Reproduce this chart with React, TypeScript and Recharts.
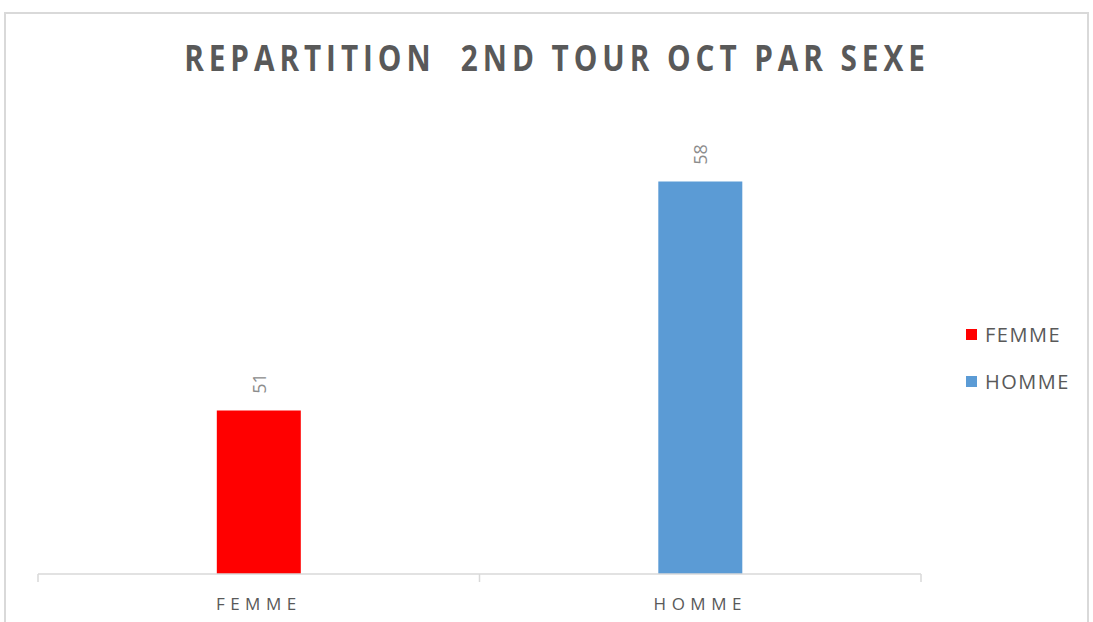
import { BarChart, Bar, XAxis, YAxis, Cell, LabelList } from 'recharts';

const categories = ['FEMME', 'HOMME'];
const values = [51, 58];
const colors = ['#ff0000', '#5b9bd5'];

const data = categories.map((name, i) => ({ name, value: values[i] }));

const W = 1093;
const H = 622;
const margin = { top: 116, right: 172, bottom: 18, left: 38 };

function AxisTick({ x, y, payload, index }: any) {
  const half = (W - margin.left - margin.right) / categories.length / 2;
  return (
    <g>
      <line x1={x - half} y1={y - 8} x2={x - half} y2={y} stroke="#d9d9d9" strokeWidth={1.5} />
      {index === categories.length - 1 && (
        <line x1={x + half} y1={y - 8} x2={x + half} y2={y} stroke="#d9d9d9" strokeWidth={1.5} />
      )}
      <text
        x={x}
        y={y + 28}
        textAnchor="middle"
        fill="#595959"
        fontSize={17}
        letterSpacing={5.5}
        fontFamily="'Open Sans', sans-serif"
      >
        {payload.value}
      </text>
    </g>
  );
}

function ValueLabel({ x, y, width, value }: any) {
  const cx = x + width / 2;
  const cy = y - 27;
  return (
    <text
      x={cx}
      y={cy}
      transform={`rotate(-90, ${cx}, ${cy})`}
      textAnchor="middle"
      dominantBaseline="central"
      fill="#8c8c8c"
      fontSize={18}
      fontFamily="'Open Sans', sans-serif"
    >
      {value}
    </text>
  );
}

export default function App() {
  return (
    <div style={{ position: 'absolute', left: 0, top: 0, width: W, height: H, background: '#fff', overflow: 'hidden' }}>
      <div
        style={{
          position: 'absolute',
          left: 4,
          top: 12,
          width: 1085,
          height: 620,
          border: '2px solid #d9d9d9',
          boxSizing: 'border-box',
        }}
      />
      <div
        style={{
          position: 'absolute',
          top: 34,
          left: 0,
          width: 1114,
          textAlign: 'center',
          fontFamily: "'Open Sans', sans-serif",
          fontWeight: 700,
          fontSize: 35,
          letterSpacing: 5.8,
          color: '#595959',
          whiteSpace: 'pre',
          transform: 'scaleX(0.85)',
        }}
      >
        {'REPARTITION  2ND TOUR OCT PAR SEXE'}
      </div>
      <div style={{ position: 'absolute', left: 0, top: 0 }}>
        <BarChart width={W} height={H} data={data} margin={margin} barCategoryGap="40.5%">
          <YAxis hide domain={[46, 60]} allowDataOverflow />
          <XAxis
            dataKey="name"
            axisLine={{ stroke: '#d9d9d9', strokeWidth: 1.5 }}
            tickLine={false}
            tick={<AxisTick />}
            interval={0}
          />
          <Bar dataKey="value" isAnimationActive={false}>
            {data.map((_, i) => (
              <Cell key={`cell-${i}`} fill={colors[i]} />
            ))}
            <LabelList dataKey="value" content={<ValueLabel />} />
          </Bar>
        </BarChart>
      </div>
      <div style={{ position: 'absolute', left: 966, top: 311, fontFamily: "'Open Sans', sans-serif" }}>
        {categories.map((c, i) => (
          <div key={c} style={{ display: 'flex', alignItems: 'center', height: 47 }}>
            <span style={{ width: 11, height: 11, background: colors[i], marginRight: 8 }} />
            <span style={{ fontSize: 20, color: '#595959', letterSpacing: 1.5 }}>{c}</span>
          </div>
        ))}
      </div>
    </div>
  );
}
